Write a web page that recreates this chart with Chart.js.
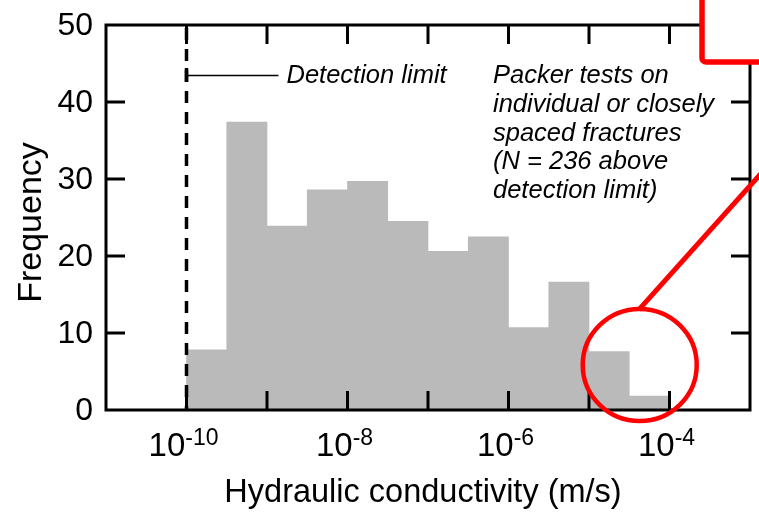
<!DOCTYPE html>
<html>
<head>
<meta charset="utf-8">
<script src="https://cdn.jsdelivr.net/npm/chart.js@4"></script>
<style>
  body { margin: 0; background: #ffffff; }
  canvas { display: block; }
</style>
</head>
<body>
<canvas id="graph" width="759" height="512"></canvas>
<script>
   /// data ///
   // bins are half a decade wide, given as log10 of the lower edge (m/s)
   const binStart = [-10, -9.5, -9, -8.5, -8, -7.5, -7, -6.5, -6, -5.5, -5, -4.5];
   const frequency = [7.8, 37.4, 23.9, 28.6, 29.7, 24.5, 20.6, 22.5, 10.7, 16.6, 7.6, 1.8];
   const yTicks = [0, 10, 20, 30, 40, 50];
   const xTickExp = [-10, -9, -8, -7, -6, -5, -4];
   const xLabelExp = [-10, -8, -6, -4];
   const detectionLimit = -10;
   const noteLines = ['Packer tests on', 'individual or closely', 'spaced fractures', '(N = 236 above', 'detection limit)'];
   const xTitle = 'Hydraulic conductivity (m/s)';
   const yTitle = 'Frequency';

   const FONT = '"Liberation Sans", Arial, Helvetica, sans-serif';

   //// axes, labels and notes drawn on top ////
   const framePlugin = {
     id: 'frame',
     afterDraw(chart) {
       const ctx = chart.ctx;
       const a = chart.chartArea;
       const xs = chart.scales.x;
       const ys = chart.scales.y;
       const tick = 19;
       ctx.save();

       // detection limit, dashed
       const xd = xs.getPixelForValue(detectionLimit);
       ctx.strokeStyle = '#000';
       ctx.lineWidth = 3.5;
       ctx.setLineDash([12, 9]);
       ctx.beginPath();
       ctx.moveTo(xd, a.top + 3);
       ctx.lineTo(xd, a.bottom);
       ctx.stroke();
       ctx.setLineDash([]);

       // box
       ctx.lineWidth = 3;
       ctx.strokeRect(a.left, a.top, a.right - a.left, a.bottom - a.top);

       // inward ticks
       ctx.beginPath();
       xTickExp.forEach(v => {
         const px = xs.getPixelForValue(v);
         ctx.moveTo(px, a.bottom); ctx.lineTo(px, a.bottom - tick);
         ctx.moveTo(px, a.top); ctx.lineTo(px, a.top + tick);
       });
       yTicks.forEach(v => {
         if (v === ys.min || v === ys.max) return;
         const py = ys.getPixelForValue(v);
         ctx.moveTo(a.left, py); ctx.lineTo(a.left + tick, py);
         ctx.moveTo(a.right, py); ctx.lineTo(a.right - tick, py);
       });
       ctx.stroke();

       // y tick labels
       ctx.fillStyle = '#000';
       ctx.font = '32px ' + FONT;
       ctx.textAlign = 'right';
       ctx.textBaseline = 'middle';
       yTicks.forEach(v => {
         ctx.fillText(String(v), a.left - 13, ys.getPixelForValue(v) + 1);
       });

       // x tick labels 10^n
       ctx.textAlign = 'left';
       ctx.textBaseline = 'alphabetic';
       xLabelExp.forEach(v => {
         const px = xs.getPixelForValue(v);
         ctx.font = '33px ' + FONT;
         const wBase = ctx.measureText('10').width;
         ctx.font = '23px ' + FONT;
         const wExp = ctx.measureText(String(v)).width;
         const x0 = px - (wBase + wExp) / 2 - 3;
         ctx.font = '33px ' + FONT;
         ctx.fillText('10', x0, a.bottom + 46);
         ctx.font = '23px ' + FONT;
         ctx.fillText(String(v), x0 + wBase, a.bottom + 35);
       });

       // axis titles
       ctx.font = '32.5px ' + FONT;
       ctx.textAlign = 'center';
       ctx.fillText(xTitle, (a.left + a.right) / 2 - 5, a.bottom + 92);
       ctx.save();
       ctx.font = '34px ' + FONT;
       ctx.translate(41, (a.top + a.bottom) / 2 + 5);
       ctx.rotate(-Math.PI / 2);
       ctx.fillText(yTitle, 0, 0);
       ctx.restore();

       // detection limit note
       ctx.lineWidth = 1.6;
       ctx.beginPath();
       ctx.moveTo(xd, a.top + 50.5);
       ctx.lineTo(xd + 92, a.top + 50.5);
       ctx.stroke();
       ctx.lineWidth = 3.5;
       ctx.beginPath();
       ctx.moveTo(xd, a.top + 43);
       ctx.lineTo(xd, a.top + 57);
       ctx.stroke();
       ctx.font = 'italic 25.5px ' + FONT;
       ctx.textAlign = 'left';
       ctx.fillText('Detection limit', xd + 100, a.top + 58);

       // packer note
       noteLines.forEach((t, i) => {
         ctx.fillText(t, a.left + 387, a.top + 58 + i * 28.8);
       });

       // red highlight round the last bins
       const cx = xs.getPixelForValue(-4.37);
       const cy = ys.getPixelForValue(5.85);
       ctx.strokeStyle = '#ff0000';
       ctx.lineWidth = 4.5;
       ctx.beginPath();
       ctx.ellipse(cx, cy, 57, 56, 0, 0, Math.PI * 2);
       ctx.stroke();
       ctx.lineWidth = 5;
       ctx.beginPath();
       ctx.moveTo(cx - 1, cy - 55);
       ctx.lineTo(cx - 1 + 160, cy - 55 - 160 * 1.116);
       ctx.stroke();

       // red box at top right corner
       ctx.fillStyle = '#ffffff';
       ctx.lineWidth = 5.5;
       ctx.beginPath();
       ctx.roundRect(702, -20, 120, 82, 4);
       ctx.fill();
       ctx.stroke();

       ctx.restore();
     }
   };

   //// chart ////
   const points = binStart.map((b, i) => ({ x: b + 0.25, y: frequency[i] }));

   new Chart(document.getElementById('graph').getContext('2d'), {
     type: 'bar',
     data: {
       datasets: [{
         label: 'Frequency',
         data: points,
         backgroundColor: '#bababa',
         borderWidth: 0,
         barPercentage: 1,
         categoryPercentage: 1
       }]
     },
     options: {
       responsive: false,
       animation: false,
       devicePixelRatio: 1,
       layout: { padding: { left: 106, top: 25, right: 9, bottom: 102 } },
       plugins: { legend: { display: false }, tooltip: { enabled: false } },
       scales: {
         x: { type: 'linear', min: -11, max: -3, offset: false, display: false,
              grid: { offset: false }, ticks: { stepSize: 1 } },
         y: { min: 0, max: 50, display: false, ticks: { stepSize: 10 } }
       }
     },
     plugins: [framePlugin]
   });
</script>
</body>
</html>
